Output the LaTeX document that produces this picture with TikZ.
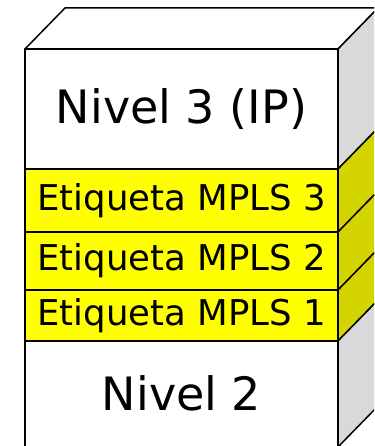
\documentclass[tikz,border=0pt]{standalone}
\usepackage{fontspec}
\setmainfont{DejaVu Sans}
\usepackage{tikz}

\definecolor{labelyellow}{HTML}{FFFF00}
\definecolor{labelside}{HTML}{D4D400}
\definecolor{sidegray}{HTML}{D9D9D9}

\begin{document}
\begin{tikzpicture}[x=1pt,y=1pt, line join=round,
 face/.style={draw,line width=1.5pt},
 layer/.style={face,fill=white},
 tag/.style={face,fill=labelyellow},
 sidelayer/.style={face,fill=sidegray},
 sidetag/.style={face,fill=labelside},
 big/.style={font=\fontsize{46}{50}\selectfont},
 small/.style={font=\fontsize{35.5}{38}\selectfont}]
\useasboundingbox (0,0) rectangle (374,446);
\begin{scope}
\clip (0,0) rectangle (374,446);
% top face
\draw[layer] (25,397) -- (338,397) -- (378,438) -- (65,438) -- cycle;
% side faces
\draw[sidelayer] (338,277) -- (378,318) -- (378,438) -- (338,397) -- cycle;
\draw[sidetag] (338,214) -- (378,255) -- (378,318) -- (338,277) -- cycle;
\draw[sidetag] (338,156) -- (378,197) -- (378,255) -- (338,214) -- cycle;
\draw[sidetag] (338,105) -- (378,146) -- (378,197) -- (338,156) -- cycle;
\draw[sidelayer] (338,-1) -- (378,40) -- (378,146) -- (338,105) -- cycle;
% front faces
\draw[layer] (25,277) rectangle (338,397);
\draw[tag] (25,214) rectangle (338,277);
\draw[tag] (25,156) rectangle (338,214);
\draw[tag] (25,105) rectangle (338,156);
\draw[layer] (25,-1) rectangle (338,105);
\end{scope}
\node[big] (ip) at (181.5,337) {Nivel 3 (IP)};
\node[small] (mpls3) at (181.5,245.5) {Etiqueta MPLS 3};
\node[small] (mpls2) at (181.5,185) {Etiqueta MPLS 2};
\node[small] (mpls1) at (181.5,130.5) {Etiqueta MPLS 1};
\node[big] (l2) at (181.5,53) {Nivel 2};
\end{tikzpicture}
\end{document}
